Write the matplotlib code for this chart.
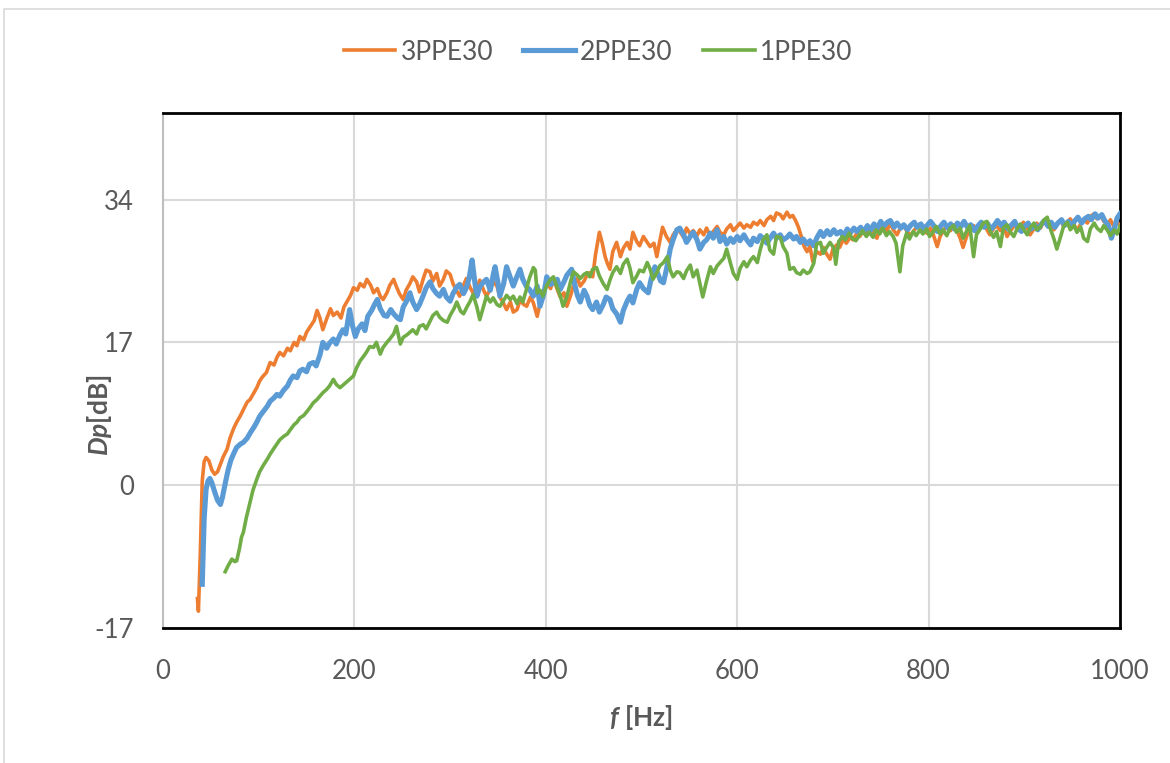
import matplotlib
matplotlib.use("Agg")
import matplotlib.pyplot as plt
from matplotlib.patches import Rectangle

plt.rcParams["font.family"] = ["Lato", "DejaVu Sans"]
plt.rcParams["mathtext.fontset"] = "custom"
plt.rcParams["mathtext.it"] = "Lato:italic:bold"
plt.rcParams["mathtext.rm"] = "Lato:bold"
plt.rcParams["axes.unicode_minus"] = False

# 3PPE30
f_3ppe = [36, 37, 39, 41, 43, 45, 48, 51, 54, 57, 60, 63, 67, 70, 74, 77, 81, 84, 88, 91,
          95, 98, 101, 104, 108, 112, 116, 119, 122, 126, 130, 133, 137, 140, 143, 147, 150, 154, 158, 161,
          164, 167, 171, 175, 178, 182, 186, 189, 192, 196, 199, 203, 206, 210, 213, 217, 220, 224, 227, 230,
          234, 237, 241, 244, 247, 251, 254, 258, 261, 265, 268, 272, 275, 279, 282, 286, 289, 293, 296, 300,
          303, 307, 310, 314, 317, 321, 324, 328, 331, 335, 338, 342, 345, 349, 352, 356, 359, 363, 366, 370,
          373, 377, 380, 384, 387, 391, 394, 398, 401, 405, 408, 412, 415, 419, 422, 426, 429, 433, 436, 440,
          443, 446, 449, 452, 456, 459, 462, 464, 467, 470, 474, 478, 481, 485, 488, 491, 495, 498, 502, 506,
          509, 513, 516, 519, 522, 526, 530, 533, 537, 540, 544, 547, 551, 554, 558, 561, 565, 568, 572, 575,
          579, 582, 586, 589, 593, 596, 600, 603, 607, 610, 614, 617, 621, 624, 628, 631, 635, 638, 641, 645,
          648, 652, 655, 658, 661, 664, 667, 670, 673, 676, 679, 683, 687, 690, 693, 697, 700, 704, 707, 711,
          714, 718, 721, 725, 728, 732, 735, 739, 742, 746, 749, 753, 756, 760, 763, 767, 770, 774, 777, 781,
          784, 788, 791, 795, 798, 802, 805, 809, 812, 816, 819, 823, 826, 830, 833, 836, 840, 843, 847, 850,
          854, 857, 861, 864, 868, 871, 875, 878, 882, 885, 889, 892, 896, 899, 903, 906, 910, 913, 917, 920,
          924, 927, 931, 934, 938, 941, 945, 948, 952, 955, 959, 962, 966, 969, 973, 976, 980, 983, 987, 990,
          994, 997, 1000]
dp_3ppe = [-13.5, -15.0, -8.0, 0.5, 2.8, 3.3, 2.9, 1.8, 1.3, 1.6, 2.5, 3.4, 4.3, 5.6, 6.8, 7.5, 8.3, 9.0, 9.9, 10.2,
           11.0, 11.6, 12.4, 12.9, 13.4, 14.6, 14.3, 15.2, 15.8, 15.4, 16.3, 16.0, 17.0, 16.6, 17.7, 17.3, 18.2, 18.9, 19.6, 20.8,
           19.9, 18.5, 19.8, 21.0, 20.2, 20.6, 19.9, 21.2, 21.8, 22.6, 23.5, 23.2, 24.0, 23.6, 24.5, 23.8, 22.9, 23.4, 22.5, 22.1,
           22.9, 23.8, 24.5, 23.6, 22.8, 22.1, 23.2, 24.0, 24.8, 24.2, 23.0, 24.6, 25.6, 25.4, 24.3, 25.2, 23.7, 24.5, 25.5, 25.1,
           24.0, 23.1, 22.5, 23.8, 24.6, 23.5, 22.9, 23.6, 24.4, 23.2, 22.5, 23.3, 24.2, 23.7, 22.4, 21.6, 20.9, 21.8, 20.6, 20.9,
           22.0, 21.5, 21.3, 22.4, 21.7, 20.1, 21.6, 23.0, 24.2, 23.4, 24.5, 23.3, 22.4, 22.9, 21.3, 22.6, 23.8, 24.6, 23.7, 24.3,
           25.0, 25.3, 24.8, 27.5, 30.1, 28.8, 27.2, 26.5, 25.7, 27.8, 28.9, 27.2, 28.2, 28.9, 28.1, 30.1, 29.0, 28.5, 29.6, 28.9,
           28.4, 28.8, 27.2, 29.0, 30.7, 29.6, 28.9, 29.8, 30.4, 30.2, 29.5, 30.6, 29.9, 30.3, 29.7, 30.4, 29.8, 30.6, 29.6, 30.2,
           30.8, 30.1, 29.8, 30.5, 31.0, 30.3, 30.8, 31.2, 30.6, 31.0, 30.7, 31.3, 31.0, 31.5, 30.9, 31.6, 32.0, 31.5, 32.4, 32.2,
           31.7, 32.5, 31.9, 32.1, 31.5, 30.7, 29.6, 28.4, 27.8, 28.4, 26.6, 27.8, 27.5, 28.3, 27.6, 26.9, 28.1, 28.6, 28.3, 29.3,
           28.8, 29.5, 29.2, 30.0, 29.6, 30.3, 29.8, 30.6, 30.1, 29.4, 30.5, 30.9, 30.2, 31.2, 30.4, 29.8, 30.5, 30.9, 30.3, 29.7,
           30.2, 30.8, 31.1, 30.4, 30.0, 30.6, 29.8, 28.4, 29.6, 30.4, 30.9, 30.3, 31.0, 30.2, 29.4, 28.3, 29.7, 30.5, 30.9, 30.1,
           30.7, 31.2, 30.4, 29.8, 30.6, 30.9, 30.3, 31.0, 29.6, 30.2, 30.8, 31.1, 30.5, 31.3, 30.7, 29.8, 30.5, 31.2, 30.6, 31.4,
           30.9, 31.2, 30.4, 31.0, 31.6, 30.8, 31.3, 31.7, 31.0, 30.3, 31.1, 31.6, 31.2, 32.0, 32.3, 31.7, 32.1, 31.4, 31.0, 31.6,
           30.7, 31.2, 31.0]

# 2PPE30
f_2ppe = [41, 42, 43, 45, 47, 49, 51, 54, 57, 60, 62, 65, 68, 71, 74, 77, 81, 84, 88, 91,
          95, 98, 101, 105, 109, 112, 116, 119, 122, 126, 130, 133, 136, 140, 143, 146, 150, 153, 157, 160,
          164, 167, 171, 174, 178, 181, 185, 188, 191, 195, 198, 201, 204, 208, 211, 214, 218, 221, 224, 227,
          231, 234, 238, 241, 245, 248, 251, 255, 258, 261, 265, 268, 272, 275, 279, 282, 286, 289, 293, 296,
          300, 303, 307, 310, 314, 317, 320, 323, 326, 328, 331, 335, 338, 342, 345, 347, 350, 352, 356, 359,
          362, 366, 369, 373, 376, 380, 383, 387, 391, 394, 398, 401, 405, 408, 412, 415, 419, 422, 427, 430,
          433, 436, 440, 443, 446, 449, 453, 456, 460, 463, 467, 470, 474, 478, 481, 485, 488, 491, 495, 498,
          502, 507, 510, 514, 517, 520, 523, 527, 530, 533, 537, 540, 544, 547, 551, 554, 558, 561, 565, 568,
          572, 575, 579, 582, 586, 589, 593, 596, 600, 603, 607, 610, 614, 617, 621, 624, 628, 631, 635, 638,
          641, 645, 648, 652, 655, 659, 662, 666, 669, 673, 676, 680, 683, 687, 690, 694, 697, 701, 704, 708,
          711, 715, 718, 722, 725, 729, 732, 736, 739, 743, 746, 750, 753, 757, 760, 764, 767, 771, 774, 778,
          781, 785, 788, 792, 795, 799, 802, 806, 809, 813, 816, 820, 823, 827, 830, 834, 837, 841, 844, 848,
          851, 855, 858, 862, 865, 869, 872, 876, 879, 883, 886, 890, 893, 897, 900, 904, 907, 911, 914, 918,
          921, 925, 928, 932, 935, 939, 942, 946, 949, 953, 956, 960, 963, 967, 970, 974, 977, 981, 984, 988,
          991, 994, 997, 1000]
dp_2ppe = [-11.8, -8.0, -4.0, -0.5, 0.5, 0.8, 0.3, -0.8, -1.8, -2.3, -1.5, 0.2, 1.8, 3.0, 3.8, 4.5, 4.9, 5.1, 5.6, 6.2,
           6.9, 7.5, 8.2, 8.8, 9.4, 10.0, 10.4, 10.8, 10.6, 11.3, 11.8, 12.5, 13.0, 12.8, 13.6, 13.8, 13.5, 14.4, 14.6, 14.2,
           15.5, 17.0, 16.3, 16.9, 17.4, 16.8, 17.9, 18.5, 18.0, 20.9, 19.0, 17.7, 18.6, 19.2, 18.4, 20.1, 20.8, 21.5, 22.1, 21.0,
           20.2, 20.1, 20.9, 20.4, 19.9, 19.7, 21.2, 22.0, 22.9, 21.8, 20.9, 21.5, 22.6, 23.5, 24.2, 23.4, 22.8, 22.5, 23.3, 22.4,
           21.9, 22.8, 23.6, 23.9, 22.8, 23.5, 24.7, 26.8, 24.0, 22.5, 23.6, 24.2, 24.5, 23.2, 25.0, 26.0, 24.1, 22.5, 24.0, 26.0,
           25.0, 23.7, 24.6, 25.7, 24.5, 23.6, 23.3, 22.5, 23.7, 21.3, 22.8, 24.8, 23.9, 24.1, 24.5, 23.3, 24.2, 25.0, 25.7, 24.0,
           22.6, 21.8, 23.2, 22.5, 21.4, 20.9, 21.8, 20.6, 21.5, 22.4, 22.1, 21.0, 20.4, 19.4, 20.8, 21.9, 22.5, 21.7, 23.3, 24.1,
           23.4, 22.9, 24.5, 26.0, 25.2, 24.3, 24.1, 26.2, 28.1, 29.2, 30.4, 30.6, 29.8, 28.9, 29.6, 30.1, 29.2, 28.1, 28.9, 29.2,
           30.0, 29.4, 30.4, 29.0, 29.6, 28.7, 29.4, 28.9, 29.6, 29.1, 29.8, 29.2, 28.6, 29.4, 29.0, 29.7, 29.3, 28.8, 29.5, 30.0,
           29.4, 29.8, 29.2, 29.5, 29.9, 29.3, 29.6, 28.9, 29.3, 28.7, 29.1, 28.5, 29.4, 30.2, 29.6, 30.3, 29.8, 30.4, 29.9, 30.2,
           29.6, 30.5, 30.0, 30.6, 30.2, 30.7, 30.1, 30.9, 30.3, 31.1, 30.5, 31.4, 30.8, 31.3, 31.5, 30.7, 31.2, 30.6, 31.0, 30.4,
           30.9, 31.3, 30.7, 31.1, 30.5, 31.0, 31.4, 30.8, 30.2, 30.9, 31.3, 30.6, 31.1, 30.5, 31.2, 30.8, 31.4, 30.6, 31.0, 30.3,
           30.8, 31.3, 30.7, 31.1, 30.4, 31.0, 31.5, 30.9, 31.3, 30.5, 30.9, 31.4, 30.6, 30.2, 30.8, 31.2, 30.5, 31.0, 30.4, 31.1,
           31.5, 30.8, 31.3, 30.7, 31.2, 31.6, 30.9, 31.4, 30.8, 31.5, 31.9, 31.2, 31.7, 32.0, 31.6, 32.3, 31.8, 32.2, 31.5, 30.9,
           29.4, 30.5, 31.8, 32.3]

# 1PPE30
f_1ppe = [65, 68, 72, 75, 77, 80, 82, 84, 87, 91, 94, 98, 101, 105, 109, 112, 116, 119, 122, 126,
          130, 133, 137, 140, 143, 147, 150, 154, 157, 161, 164, 167, 171, 174, 178, 181, 185, 188, 192, 195,
          199, 202, 206, 210, 213, 216, 220, 223, 227, 230, 234, 237, 241, 244, 248, 251, 255, 258, 261, 265,
          268, 272, 275, 279, 282, 286, 289, 293, 297, 300, 304, 307, 311, 314, 318, 321, 324, 328, 331, 335,
          338, 342, 345, 349, 352, 356, 359, 363, 366, 370, 373, 376, 380, 383, 387, 389, 391, 394, 397, 401,
          405, 408, 412, 415, 418, 422, 426, 429, 433, 436, 440, 443, 446, 449, 453, 456, 460, 464, 467, 470,
          474, 478, 481, 485, 488, 491, 495, 498, 502, 506, 509, 512, 516, 519, 523, 527, 530, 533, 537, 540,
          544, 547, 551, 554, 558, 561, 564, 568, 572, 575, 579, 582, 586, 589, 593, 596, 600, 603, 607, 610,
          614, 617, 621, 624, 627, 631, 634, 638, 641, 645, 648, 652, 655, 659, 662, 666, 669, 673, 676, 680,
          683, 687, 690, 694, 697, 701, 703, 706, 710, 713, 717, 720, 724, 728, 731, 735, 738, 742, 745, 749,
          752, 756, 759, 763, 766, 770, 773, 777, 780, 784, 787, 791, 794, 798, 801, 805, 808, 812, 815, 819,
          822, 826, 829, 833, 836, 840, 843, 847, 850, 854, 857, 861, 864, 868, 871, 875, 878, 882, 885, 889,
          892, 896, 899, 903, 906, 910, 913, 917, 920, 924, 927, 931, 934, 938, 941, 945, 948, 952, 955, 959,
          962, 966, 969, 973, 976, 980, 983, 987, 990, 994, 997, 1000]
dp_1ppe = [-10.3, -9.6, -8.8, -9.1, -9.0, -7.5, -6.2, -5.6, -3.9, -2.0, -0.6, 0.7, 1.6, 2.4, 3.1, 3.7, 4.4, 4.9, 5.4, 5.8,
           6.1, 6.6, 7.2, 7.5, 8.0, 8.3, 8.7, 9.3, 9.8, 10.2, 10.6, 11.0, 11.4, 11.8, 12.6, 12.0, 11.6, 11.9, 12.3, 12.6,
           13.0, 13.9, 14.8, 15.4, 15.9, 16.5, 16.4, 17.0, 15.6, 16.4, 17.0, 17.4, 18.0, 18.9, 16.8, 17.6, 17.9, 18.2, 18.5, 18.0,
           18.9, 19.1, 18.6, 19.5, 20.2, 20.6, 20.0, 19.6, 19.4, 20.2, 21.0, 21.8, 20.7, 20.4, 21.3, 21.9, 22.7, 21.2, 19.7, 21.3,
           22.5, 21.8, 22.3, 21.5, 21.3, 22.0, 22.6, 22.1, 22.5, 21.6, 22.4, 21.8, 23.4, 24.7, 25.9, 25.6, 22.9, 23.2, 22.5, 23.8,
           24.5, 24.8, 23.5, 22.6, 21.3, 22.4, 24.3, 25.4, 25.0, 24.6, 25.1, 25.3, 24.8, 25.7, 25.9, 24.9, 24.0, 23.3, 24.4, 25.3,
           26.0, 25.2, 26.3, 26.9, 25.8, 24.1, 24.9, 25.6, 25.4, 26.5, 25.7, 24.5, 25.3, 26.1, 26.5, 27.2, 25.6, 24.8, 25.4, 25.3,
           24.6, 25.5, 26.2, 24.8, 25.6, 24.0, 22.4, 24.3, 26.0, 25.2, 26.1, 26.5, 27.0, 28.1, 26.4, 25.2, 24.5, 25.8, 26.6, 26.0,
           26.8, 27.2, 26.5, 28.0, 29.2, 29.8, 28.0, 27.5, 29.6, 29.5, 28.4, 27.6, 25.7, 25.9, 25.3, 25.1, 25.6, 25.2, 25.4, 26.4,
           28.7, 28.9, 27.6, 28.4, 28.9, 28.2, 26.3, 29.0, 29.6, 29.2, 30.0, 29.4, 29.1, 29.8, 30.3, 29.6, 30.1, 29.5, 30.4, 29.9,
           30.6, 29.7, 30.2, 29.6, 28.8, 25.4, 28.5, 30.0, 29.3, 30.2, 29.7, 30.4, 29.9, 30.5, 29.6, 30.2, 30.8, 29.9, 30.4, 29.7,
           30.5, 30.9, 30.1, 30.6, 29.4, 30.3, 30.9, 27.2, 29.8, 30.5, 31.2, 31.4, 30.3, 29.5, 30.2, 28.4, 30.6, 31.0, 30.2, 29.6,
           30.4, 31.1, 30.5, 29.8, 30.6, 31.2, 30.4, 30.8, 31.5, 31.9, 30.6, 29.3, 28.1, 29.6, 30.8, 31.3, 30.4, 30.9, 30.1, 30.7,
           29.4, 29.0, 30.5, 31.2, 30.6, 30.2, 30.9, 30.3, 29.7, 30.4, 29.9, 30.8]

series_names = ["3PPE30", "2PPE30", "1PPE30"]
y_ticks = [-17, 0, 17, 34]
x_ticks = [0, 200, 400, 600, 800, 1000]

fig = plt.figure(figsize=(11.7, 7.63), dpi=100)
ax = fig.add_axes([163 / 1170, 1 - 628 / 763, (1120 - 163) / 1170, (628 - 113) / 763])

ax.plot(f_3ppe, dp_3ppe, color="#ED7D31", lw=2.6, label=series_names[0], zorder=3)
ax.plot(f_2ppe, dp_2ppe, color="#5B9BD5", lw=3.7, label=series_names[1], zorder=4)
ax.plot(f_1ppe, dp_1ppe, color="#70AD47", lw=2.6, label=series_names[2], zorder=5)

ax.set_xlim(0, 1000)
ax.set_ylim(-17, 44.3)
ax.set_xticks(x_ticks)
ax.set_yticks(y_ticks)
ax.grid(True, color="#D9D9D9", lw=1.5)
ax.set_axisbelow(True)
ax.tick_params(length=0, labelsize=18.5, labelcolor="#595959")
ax.tick_params(axis="x", pad=22)
ax.tick_params(axis="y", pad=21)

for side in ["top", "right", "bottom"]:
    ax.spines[side].set_color("black")
    ax.spines[side].set_linewidth(2)
ax.spines["left"].set_color("#BFBFBF")
ax.spines["left"].set_linewidth(1.5)

fig.text(641 / 1170, 1 - 718 / 763, r"$f$ [Hz]", ha="center", va="center",
         fontsize=19, fontweight="bold", color="#595959")
fig.text(100 / 1170, 1 - 415 / 763, r"$Dp$[dB]", ha="center", va="center", rotation=90,
         fontsize=19, fontweight="bold", color="#595959")

fig.legend(loc="center", bbox_to_anchor=(598 / 1170, 1 - 52 / 763), ncol=3, frameon=False,
           fontsize=19, labelcolor="#595959", handlelength=1.95, handletextpad=0.2, columnspacing=1.15)

fig.patches.append(Rectangle((4 / 1170, -0.02), 1.05, 1 - 9 / 763 + 0.02, transform=fig.transFigure,
                             fill=False, edgecolor="#D9D9D9", lw=1.2))

fig.savefig("out.png", dpi=100)
